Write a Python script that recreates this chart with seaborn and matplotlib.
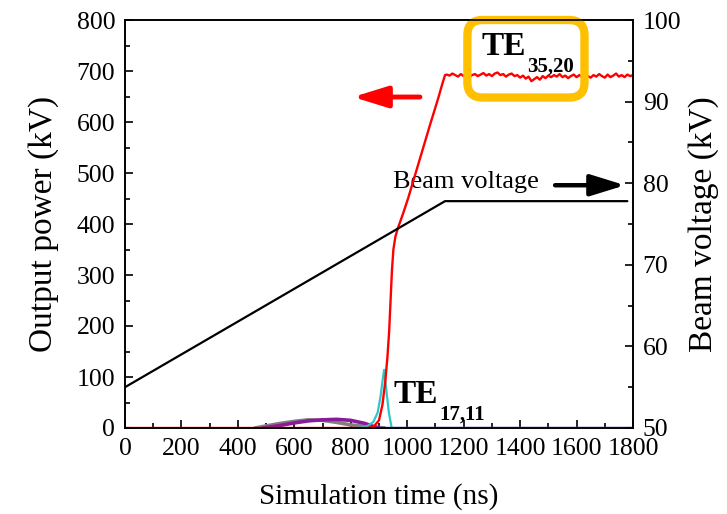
import numpy as np
import pandas as pd
import matplotlib
matplotlib.use("Agg")
import matplotlib.pyplot as plt
import seaborn as sns
from matplotlib.patches import FancyBboxPatch

# ---------------- data ----------------
# TE35,20 (red): rise then noisy plateau
red_rise_t = [0, 860, 880, 900, 912, 922, 930, 936, 941, 946, 951, 958, 967, 985,
              1003, 1038, 1080, 1110, 1125, 1134]
red_rise_v = [0, 0, 2, 15, 45, 90, 140, 190, 250, 310, 350, 375, 392, 420,
              450, 515, 593, 647, 676, 692]
red_plat_t = [1140, 1150, 1160, 1170, 1180, 1190, 1200, 1210, 1220, 1230, 1240, 1250,
              1260, 1270, 1280, 1290, 1300, 1310, 1320, 1330, 1340, 1350, 1360, 1370,
              1380, 1390, 1400, 1410, 1420, 1430, 1440, 1450, 1460, 1470, 1480, 1490,
              1500, 1510, 1520, 1530, 1540, 1550, 1560, 1570, 1580, 1590, 1600, 1610,
              1620, 1630, 1640, 1650, 1660, 1670, 1680, 1690, 1700, 1710, 1720, 1730,
              1740, 1750, 1760, 1770, 1780, 1790, 1800]
red_plat_v = [693, 691, 695, 692, 689, 694, 690, 693, 688, 692, 694, 690,
              693, 696, 691, 694, 690, 695, 697, 692, 694, 689, 693, 695,
              690, 692, 687, 691, 685, 689, 680, 684, 688, 683, 690, 686,
              691, 688, 692, 689, 694, 688, 691, 686, 690, 693, 688, 692,
              689, 694, 690, 687, 692, 689, 694, 690, 687, 693, 688, 691,
              695, 689, 692, 688, 693, 690, 692]

# TE17,11 (cyan)
cyan_t = [820, 860, 880, 895, 905, 912, 918, 925, 935, 945, 1800]
cyan_v = [0, 4, 12, 30, 60, 90, 114, 80, 30, 0, 0]

# other competing modes
gray_t = [460, 500, 550, 600, 650, 700, 750, 800, 850, 900, 920]
gray_v = [0, 4, 9, 13, 16, 15, 11, 6, 3, 1, 0]
purple_t = [490, 550, 600, 650, 700, 750, 800, 850, 880, 900]
purple_v = [0, 5, 10, 14, 16, 17, 15, 9, 3, 0]
violet_t = [870, 1800]
violet_v = [0, 0]

# beam voltage (right axis)
beam_t = [0, 1134, 1780]
beam_v = [55, 77.8, 77.8]

x_ticks = [0, 200, 400, 600, 800, 1000, 1200, 1400, 1600, 1800]
y_ticks = [0, 100, 200, 300, 400, 500, 600, 700, 800]
y2_ticks = [50, 60, 70, 80, 90, 100]

# ---------------- style ----------------
sns.set_style("ticks")
plt.rcParams['font.family'] = ['Liberation Serif', 'DejaVu Serif']
plt.rcParams['axes.linewidth'] = 1.2
for k in ('text.color', 'axes.labelcolor', 'xtick.color', 'ytick.color', 'axes.edgecolor'):
    plt.rcParams[k] = 'black'

fig = plt.figure(figsize=(7.27, 5.14), dpi=100)
ax = fig.add_axes([125/727, 1-428/514, (633-125)/727, (428-20)/514])
ax2 = ax.twinx()

red_df = pd.DataFrame({"t": red_rise_t + red_plat_t, "v": red_rise_v + red_plat_v})
sns.lineplot(x=gray_t, y=gray_v, ax=ax, color="#808080", lw=2.6, sort=False, zorder=2)
sns.lineplot(x=purple_t, y=purple_v, ax=ax, color="#8a1a9a", lw=2.6, sort=False, zorder=3)
sns.lineplot(x=cyan_t, y=cyan_v, ax=ax, color="#2fc6c9", lw=1.6, sort=False, zorder=4)
sns.lineplot(x=violet_t, y=violet_v, ax=ax, color="#5b1cb5", lw=2.4, sort=False, zorder=5)
sns.lineplot(data=red_df, x="t", y="v", ax=ax, color="#ff0000", lw=1.7, sort=False, zorder=6)
sns.lineplot(x=beam_t, y=beam_v, ax=ax2, color="black", lw=1.6, sort=False)

ax.set_xlim(0, 1800)
ax.set_ylim(0, 800)
ax2.set_ylim(50, 100)
ax.set_xticks(x_ticks)
ax.set_yticks(y_ticks)
ax2.set_yticks(y2_ticks)
ax.set_xticks([100, 300, 500, 700, 900, 1100, 1300, 1500, 1700], minor=True)
ax.set_yticks([50, 150, 250, 350, 450, 550, 650, 750], minor=True)
ax2.set_yticks([55, 65, 75, 85, 95], minor=True)

for a in (ax, ax2):
    a.tick_params(which='major', direction='in', length=6, width=1.2,
                  labelsize=18.5, pad=7, colors='black')
    a.tick_params(which='minor', direction='in', length=3.5, width=1.2, colors='black')
    for s in a.spines.values():
        s.set_visible(True)
        s.set_linewidth(1.2)
        s.set_color('black')
ax.tick_params(axis='y', which='both', right=False)
ax.tick_params(axis='x', which='both', top=False)

ax.set_xlabel("Simulation time (ns)", fontsize=21, labelpad=17)
ax.set_ylabel("Output power (kV)", fontsize=24, labelpad=13)
ax2.set_ylabel("Beam voltage (kV)", fontsize=24, labelpad=5)

# ---------------- annotations ----------------
t1 = ax.text(1262, 731, "TE", fontsize=24, fontweight='bold', ha='left', va='baseline')
ax.annotate("35,20", xy=(1, 0), xycoords=t1, xytext=(1, -7), textcoords='offset points',
            fontsize=15, fontweight='bold', ha='left', va='baseline')
t2 = ax.text(950, 49, "TE", fontsize=24, fontweight='bold', ha='left', va='baseline')
ax.annotate("17,11", xy=(1, 0), xycoords=t2, xytext=(1, -7), textcoords='offset points',
            fontsize=15, fontweight='bold', ha='left', va='baseline')

ax.text(950, 471, "Beam voltage", fontsize=19, ha='left', va='baseline')

ax.annotate("", xy=(808, 649), xytext=(1045, 649),
            arrowprops=dict(arrowstyle='-|>,head_length=21,head_width=6.5',
                            mutation_scale=1, lw=3.5, color='#ff0000',
                            shrinkA=0, shrinkB=0))
ax.annotate("", xy=(1772, 476), xytext=(1524, 476),
            arrowprops=dict(arrowstyle='-|>,head_length=21,head_width=6.5',
                            mutation_scale=1, lw=3.2, color='black',
                            shrinkA=0, shrinkB=0))

box = FancyBboxPatch((0.674, 0.810), 0.2305, 0.1900,
                     boxstyle="round,pad=0,rounding_size=0.03",
                     mutation_aspect=508/408, transform=ax.transAxes,
                     fill=False, edgecolor="#ffc000", lw=6, clip_on=False, zorder=10)
ax.add_patch(box)

fig.savefig("out.png", dpi=100)
